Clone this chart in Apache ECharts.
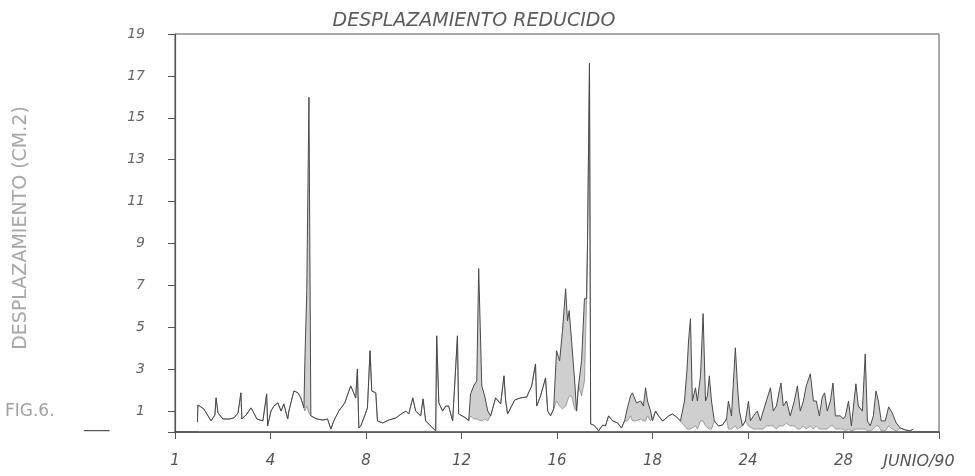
<!DOCTYPE html>
<html>
<head>
<meta charset="utf-8">
<script src="https://cdn.jsdelivr.net/npm/echarts@6/dist/echarts.min.js"></script>
<style>
  html, body { margin: 0; padding: 0; background: #ffffff; }
  #chart { width: 975px; height: 476px; }
</style>
</head>
<body>
<div id="chart"></div>
<script>
// Días de junio de 1990 (posición en el eje horizontal)
const dias = [
  0.94,0.96,1.21,1.51,1.67,1.72,1.80,2.01,2.26,2.47,
  2.64,2.76,2.80,3.01,3.18,3.26,3.43,3.68,3.84,3.88,
  4.02,4.14,4.31,4.44,4.56,4.72,4.77,4.98,5.15,5.27,
  5.40,5.44,5.52,5.61,5.69,5.94,6.19,6.39,6.53,6.65,
  6.86,7.11,7.36,7.45,7.57,7.64,7.70,7.78,7.91,8.06,
  8.17,8.24,8.41,8.48,8.70,8.95,9.25,9.54,9.67,9.79,
  9.96,10.08,10.29,10.39,10.50,10.71,10.92,10.96,11.05,11.21,
  11.34,11.46,11.63,11.83,11.88,12.18,12.30,12.38,12.51,12.64,
  12.72,12.85,12.97,13.10,13.22,13.43,13.64,13.78,13.85,13.93,
  14.06,14.23,14.48,14.73,14.94,15.10,15.15,15.31,15.52,15.61,
  15.73,15.86,15.98,16.11,16.23,16.36,16.44,16.51,16.61,16.74,
  16.82,16.90,17.03,17.15,17.24,17.28,17.36,17.41,17.53,17.66,
  17.74,17.91,18.03,18.16,18.33,18.54,18.70,18.83,18.95,19.08,
  19.16,19.33,19.50,19.62,19.71,19.79,19.92,20.00,20.13,20.25,
  20.42,20.54,20.67,20.84,21.00,21.17,21.34,21.45,21.51,21.59,
  21.67,21.80,21.88,22.01,22.12,22.22,22.30,22.38,22.47,22.59,
  22.76,22.93,23.10,23.18,23.31,23.47,23.56,23.64,23.77,23.89,
  24.02,24.10,24.23,24.39,24.52,24.64,24.77,24.94,25.06,25.19,
  25.31,25.38,25.48,25.61,25.77,25.94,26.07,26.19,26.32,26.44,
  26.61,26.74,26.86,26.99,27.11,27.21,27.32,27.45,27.56,27.66,
  27.87,27.99,28.08,28.21,28.33,28.52,28.62,28.79,28.91,29.00,
  29.12,29.25,29.36,29.46,29.58,29.75,29.89,30.04,30.21,30.38,
  30.59,30.79,30.92
];

// Envolvente superior del registro (cm2)
const maximo = [
  0.48,1.29,1.10,0.53,0.81,1.63,0.91,0.62,0.62,0.67,
  0.91,1.87,0.62,0.86,1.15,1.00,0.62,0.53,1.82,0.29,
  1.00,1.24,1.39,1.00,1.34,0.62,1.00,1.96,1.87,1.63,
  1.15,3.40,6.75,15.98,0.77,0.62,0.57,0.62,0.14,0.53,
  1.00,1.39,2.20,1.96,1.63,3.01,0.19,0.29,0.67,1.15,
  3.88,1.96,1.87,0.53,0.43,0.57,0.67,0.91,1.00,0.86,
  1.63,1.00,0.77,1.58,0.53,0.29,0.05,4.59,1.39,1.00,
  1.24,1.24,0.53,4.59,0.86,0.67,0.53,1.82,2.20,2.44,
  7.80,2.20,1.72,1.00,0.77,1.63,1.34,2.68,1.48,0.86,
  1.15,1.53,1.63,1.67,2.20,3.25,1.24,1.72,2.58,1.00,
  0.77,1.10,3.88,3.40,4.83,6.84,5.31,5.79,4.35,2.44,
  1.00,2.20,3.40,6.36,6.36,9.14,17.61,0.38,0.33,0.19,
  0.05,0.33,0.29,0.77,0.53,0.43,0.19,0.53,1.15,1.72,
  1.87,1.39,1.48,1.24,2.11,1.48,1.00,0.53,1.00,0.77,
  0.53,0.62,0.77,0.86,0.72,0.53,1.48,3.06,4.35,5.41,
  1.48,2.11,1.48,2.68,5.65,1.48,1.72,2.68,1.48,0.53,
  0.29,0.33,0.62,1.48,0.77,4.02,2.20,1.00,0.29,0.53,
  1.48,0.53,0.77,1.00,0.53,1.00,1.48,2.11,1.00,1.24,
  1.96,2.34,1.24,1.48,0.77,1.48,2.20,1.00,1.48,2.20,
  2.78,1.48,1.48,0.77,1.67,1.87,1.00,1.48,2.34,0.77,
  0.77,0.62,0.77,1.48,0.29,2.30,1.24,1.00,3.73,0.53,
  0.29,0.77,1.96,1.48,0.53,0.53,1.20,0.91,0.43,0.19,
  0.10,0.05,0.14
];

// Envolvente inferior del registro (cm2)
const minimo = [
  0.48,1.29,1.10,0.53,0.81,1.63,0.91,0.62,0.62,0.67,
  0.91,1.87,0.62,0.86,1.15,1.00,0.62,0.53,1.82,0.29,
  1.00,1.24,1.39,1.00,1.34,0.62,1.00,1.96,1.87,1.63,
  1.15,1.00,1.24,0.91,0.77,0.62,0.57,0.62,0.14,0.53,
  1.00,1.39,2.20,1.96,1.63,3.01,0.19,0.29,0.67,1.15,
  3.88,1.96,1.87,0.53,0.43,0.57,0.67,0.91,1.00,0.86,
  1.63,1.00,0.77,1.58,0.53,0.29,0.05,4.59,1.39,1.00,
  1.24,1.24,0.53,4.59,0.86,0.67,0.53,0.77,0.62,0.62,
  0.62,0.53,0.62,0.53,0.77,1.63,1.34,2.68,1.48,0.86,
  1.15,1.53,1.63,1.67,2.20,3.25,1.24,1.72,2.58,1.00,
  0.77,1.10,1.48,1.24,1.10,1.24,1.48,1.72,1.72,1.10,
  1.00,2.20,1.72,2.44,6.36,9.14,17.61,0.38,0.33,0.19,
  0.05,0.33,0.29,0.77,0.53,0.43,0.19,0.53,0.53,0.77,
  0.53,0.53,0.62,0.53,0.53,0.77,0.53,0.53,1.00,0.77,
  0.53,0.62,0.77,0.86,0.72,0.53,0.29,0.14,0.14,0.14,
  0.14,0.29,0.14,0.53,0.53,0.29,0.29,0.14,0.14,0.53,
  0.29,0.33,0.62,0.14,0.14,0.29,0.14,0.14,0.29,0.53,
  0.29,0.29,0.14,0.14,0.14,0.14,0.29,0.29,0.29,0.14,
  0.29,0.29,0.29,0.43,0.29,0.29,0.14,0.14,0.29,0.14,
  0.29,0.14,0.29,0.14,0.14,0.14,0.14,0.29,0.29,0.14,
  0.14,0.14,0.05,0.14,0.05,0.14,0.14,0.14,0.14,0.05,
  0.05,0.14,0.29,0.29,0.05,0.05,0.29,0.14,0.05,0.19,
  0.10,0.05,0.14
];

// Rótulos del eje de tiempo (cada 4 días) y marcas del eje vertical
const etiquetasX = ['1', '4', '8', '12', '16', '18', '24', '28', 'JUNIO/90'];
const marcasY = [1, 3, 5, 7, 9, 11, 13, 15, 17, 19];

const superior = dias.map((d, i) => [d, maximo[i]]);
const inferior = dias.map((d, i) => [d, minimo[i]]);

const tinta = '#4a4a4a';
const fuente = 'DejaVu Sans';

const chart = echarts.init(document.getElementById('chart'), null, { renderer: 'canvas' });

chart.setOption({
  backgroundColor: '#ffffff',
  animation: false,
  grid: {
    left: 175, right: 36, top: 34, bottom: 44,
    show: true, borderColor: '#555555', borderWidth: 1,
    outerBoundsMode: 'none'
  },
  xAxis: {
    type: 'value', min: 0, max: 32, interval: 4,
    z: 10,
    axisLine: { show: true, onZero: false, lineStyle: { color: '#444444', width: 1.5 } },
    axisTick: { show: true, length: 7, lineStyle: { color: '#555555', width: 1 } },
    splitLine: { show: false },
    axisLabel: {
      margin: 22,
      color: '#555555',
      fontSize: 15,
      fontFamily: fuente,
      fontStyle: 'italic',
      formatter: v => {
        const t = etiquetasX[Math.round(v / 4)] || '';
        return t.length > 3 ? '{fin|' + t + '}' : t;
      },
      rich: {
        fin: { color: '#555555', fontSize: 16, fontFamily: fuente, padding: [0, 40, 0, 0] }
      }
    }
  },
  yAxis: {
    type: 'value', min: 0, max: 19,
    axisLine: { show: true, lineStyle: { color: '#555555', width: 1.2 } },
    axisTick: {
      show: true, length: 7, customValues: [0].concat(marcasY),
      lineStyle: { color: '#555555', width: 1 }
    },
    splitLine: { show: false },
    axisLabel: {
      customValues: marcasY,
      margin: 30,
      color: '#666666',
      fontSize: 14,
      fontFamily: fuente,
      fontStyle: 'italic'
    }
  },
  graphic: [
    {
      type: 'text', x: 474, y: 21,
      style: {
        text: 'DESPLAZAMIENTO REDUCIDO',
        fill: '#5c5c5c', font: 'italic 19px "DejaVu Sans"',
        textAlign: 'center', textVerticalAlign: 'middle'
      }
    },
    {
      type: 'text', x: 21, y: 228, rotation: Math.PI / 2,
      style: {
        text: 'DESPLAZAMIENTO (CM.2)',
        fill: '#a8a8a8', font: '19px "DejaVu Sans"',
        textAlign: 'center', textVerticalAlign: 'middle'
      }
    },
    {
      type: 'text', x: 5, y: 412,
      style: {
        text: 'FIG.6.',
        fill: '#a0a0a0', font: '17px "DejaVu Sans"',
        textAlign: 'left', textVerticalAlign: 'middle'
      }
    },
    {
      type: 'text', x: 84, y: 423,
      style: {
        text: '___',
        fill: '#555555', font: '17px "DejaVu Sans"',
        textAlign: 'left', textVerticalAlign: 'middle'
      }
    }
  ],
  series: [
    {
      // relleno gris bajo la envolvente superior
      name: 'banda', type: 'line', data: superior,
      symbol: 'none', silent: true, z: 2,
      lineStyle: { opacity: 0 },
      areaStyle: { color: '#cfcfcf', opacity: 1 }
    },
    {
      // la envolvente inferior recorta la banda hasta el eje
      name: 'mínimo', type: 'line', data: inferior,
      symbol: 'none', silent: true, z: 3,
      lineStyle: { color: '#8a8a8a', width: 0.8 },
      areaStyle: { color: '#ffffff', opacity: 1 }
    },
    {
      name: 'máximo', type: 'line', data: superior,
      symbol: 'none', silent: true, z: 4,
      lineStyle: { color: tinta, width: 1 }
    }
  ]
});
</script>
</body>
</html>
